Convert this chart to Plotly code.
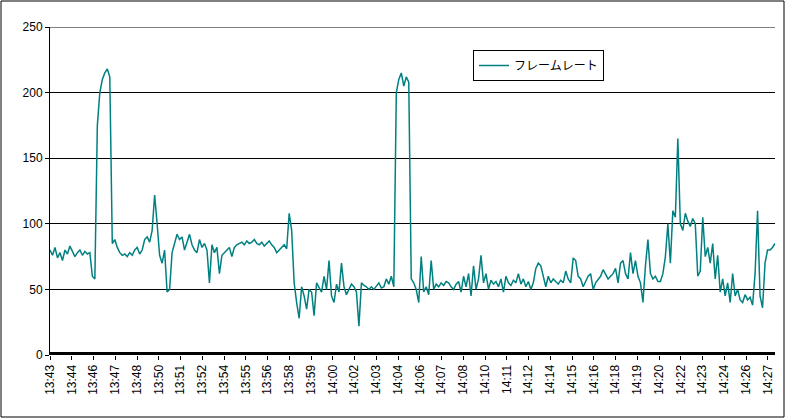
import numpy as np
import plotly.graph_objects as go

# frame rate samples
frame_rate = [
    80, 76, 82, 74, 78, 72, 80, 77, 83, 79, 75, 78, 80, 76, 79, 77,
    78, 60, 58,
    175, 200, 210, 215, 218, 212,
    85, 88, 82, 78, 76, 77, 75, 78, 76, 80, 82, 77, 80,
    88, 90, 86, 95, 122, 100,
    76, 70, 80, 48, 50, 78,
    85, 92, 88, 90, 80, 86, 92, 84, 80, 78, 88, 82,
    85, 80, 55, 84, 78, 82,
    62, 76, 78, 80, 82, 75,
    82, 84, 85, 86, 84, 87, 85, 86, 88, 85, 84, 86, 83, 85, 87, 84, 82, 78, 80, 82, 84, 81,
    108, 95,
    55, 40, 28, 52, 45, 35, 50, 48, 30,
    55, 52, 48, 60, 50, 72, 45, 40, 54, 48, 70, 52, 46, 50, 54, 52, 48, 22, 55, 53, 52, 50,
    52, 50, 53, 55, 51, 52, 58, 54, 60, 52,
    200, 210, 215, 205, 212, 208,
    58, 55, 50, 40, 75, 48, 52, 46, 72, 50, 54, 52, 55, 53, 56, 55, 52, 50, 54, 56,
    48, 60, 52, 62, 45, 68, 50, 58, 76, 55, 62, 50, 57, 54, 56, 52, 58, 48, 60, 55, 53, 57,
    55, 62, 54, 58, 52, 56, 50, 55, 66, 70, 68, 60, 52, 60, 55, 58, 56, 54, 57, 55,
    64, 58, 55, 74, 72, 60, 58, 52, 56, 60, 62, 50, 55, 58, 60, 65, 62, 58, 60,
    62, 66, 55, 70, 72, 62, 58, 78, 62, 72, 60, 55, 40, 68, 88, 62, 58, 60, 56,
    56, 62, 75, 100, 70, 110, 105, 165, 100, 95, 108, 102, 98, 104, 100, 60, 64,
    105, 75, 82, 70, 85, 58, 76, 48, 58, 45, 55, 40, 62,
    45, 50, 42, 40, 46, 42, 44, 38, 62, 110, 45, 36, 70, 80,
    80, 82, 85,
]

time_labels = [
    '13:43', '13:44', '13:46', '13:47', '13:48', '13:50', '13:51', '13:52',
    '13:54', '13:55', '13:56', '13:58', '13:59', '14:00', '14:02', '14:03',
    '14:04', '14:06', '14:07', '14:08', '14:10', '14:11', '14:12', '14:14',
    '14:15', '14:16', '14:18', '14:19', '14:20', '14:22', '14:23', '14:24',
    '14:26', '14:27',
]

n = len(frame_rate)
x = list(range(n))
tick_pos = np.linspace(0, (n - 1) * 0.99, len(time_labels))

font = dict(family='Liberation Sans, Arial', size=12, color='black')

fig = go.Figure(go.Scatter(x=x, y=frame_rate, mode='lines', name='フレームレート',
                           line=dict(color='#008080', width=1.5)))

fig.update_layout(
    width=785, height=418,
    margin=dict(l=50, r=10, t=27, b=63, autoexpand=False),
    plot_bgcolor='white', paper_bgcolor='white',
    font=font,
    showlegend=True,
    legend=dict(x=423 / 725, y=1 - 23 / 328, xanchor='left', yanchor='top',
                bordercolor='black', borderwidth=1, bgcolor='white',
                font=dict(family='Noto Sans CJK JP', size=12)),
    xaxis=dict(range=[0, n - 1], tickvals=tick_pos, ticktext=time_labels,
               tickangle=-90, showgrid=False, zeroline=False, automargin=False,
               showline=False, ticks='outside', ticklen=4, tickcolor='black'),
    yaxis=dict(range=[0, 250], tickvals=[0, 50, 100, 150, 200, 250],
               showgrid=True, gridcolor='black', gridwidth=1, zeroline=False,
               automargin=False,
               showline=True, linecolor='black', linewidth=1,
               ticks='outside', ticklen=4, tickcolor='black'),
    shapes=[
        dict(type='line', xref='paper', yref='y', x0=0, x1=1, y0=250, y1=250,
             line=dict(color='black', width=1)),
        dict(type='line', xref='paper', yref='y', x0=0, x1=1, y0=0, y1=0,
             line=dict(color='black', width=6)),
        dict(type='rect', xref='paper', yref='paper',
             x0=-49 / 725, x1=1 + 9 / 725, y0=-62 / 328, y1=1 + 26 / 328,
             line=dict(color='black', width=1)),
    ],
)

fig.write_html('out.html', config={'displayModeBar': False},
               post_script="document.body.style.margin='0';")
